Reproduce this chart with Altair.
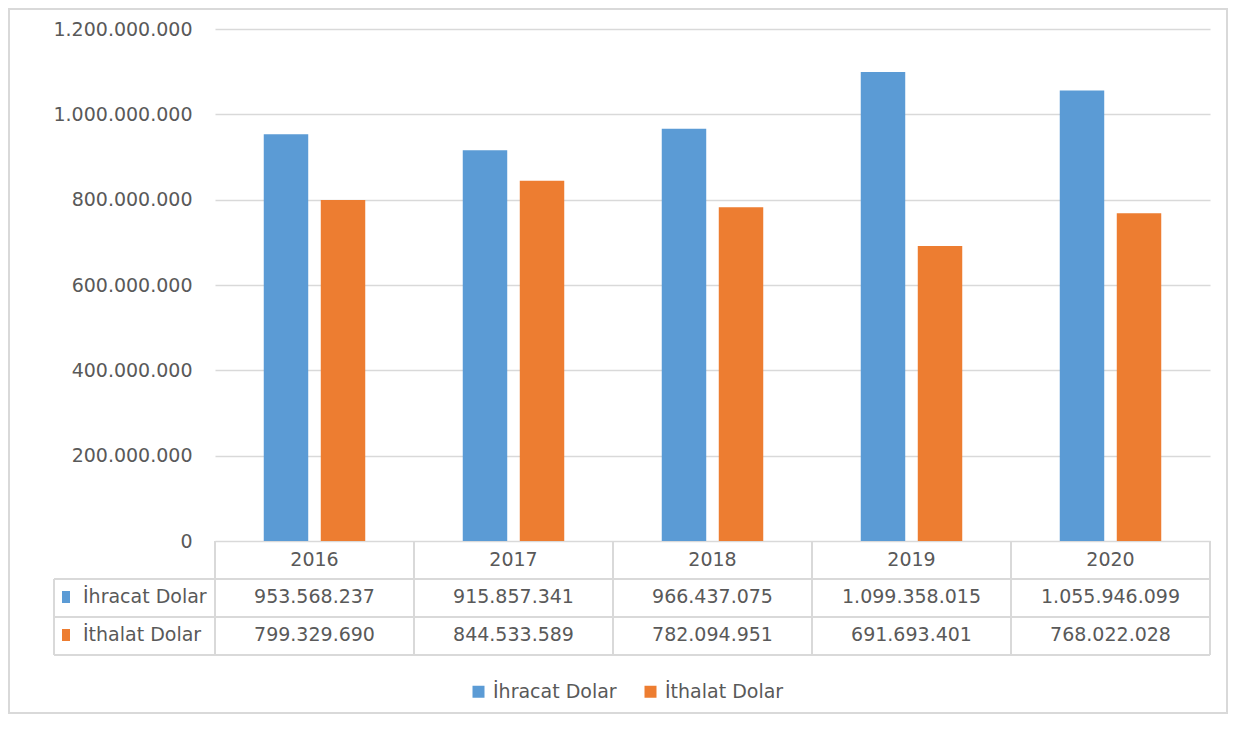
import altair as alt
import pandas as pd

years = ["2016", "2017", "2018", "2019", "2020"]
series_names = ["İhracat Dolar", "İthalat Dolar"]
ihracat = [953568237, 915857341, 966437075, 1099358015, 1055946099]
ithalat = [799329690, 844533589, 782094951, 691693401, 768022028]
y_ticks = [0, 200000000, 400000000, 600000000, 800000000, 1000000000, 1200000000]
colors = ["#5B9BD5", "#ED7D31"]

rows = []
for i, yr in enumerate(years):
    rows.append({"year": yr, "series": series_names[0], "value": ihracat[i]})
    rows.append({"year": yr, "series": series_names[1], "value": ithalat[i]})
df = pd.DataFrame(rows)
years_df = pd.DataFrame({"year": years})
one_df = pd.DataFrame({"k": [0]})

FONT = "DejaVu Sans"
FS = 19
TXT = "#595959"
LINE = "#d9d9d9"
W, H = 995, 512

base = alt.Chart(df)

bars = base.mark_bar().encode(
    x=alt.X("year:N", sort=years, axis=None,
            scale=alt.Scale(paddingInner=0.49, paddingOuter=0.245)),
    xOffset=alt.XOffset("series:N", sort=series_names,
                        scale=alt.Scale(paddingInner=0.22, paddingOuter=0)),
    y=alt.Y("value:Q", scale=alt.Scale(domain=[0, 1200000000], nice=False),
            axis=alt.Axis(values=y_ticks, format=",d", title=None, domain=False, ticks=False,
                          labelFontSize=FS, labelFont=FONT, labelColor=TXT, labelPadding=23,
                          gridColor=LINE, gridWidth=1.5)),
    color=alt.Color("series:N", sort=series_names,
                    scale=alt.Scale(domain=series_names, range=colors),
                    legend=alt.Legend(orient="none", legendX=254, legendY=653, direction="horizontal",
                                      title=None, labelFontSize=FS, labelFont=FONT, labelColor=TXT,
                                      symbolType="square", symbolSize=144, symbolStrokeWidth=0,
                                      labelOffset=5, columnPadding=24)),
)

tx = alt.X("year:N", sort=years, axis=None, scale=alt.Scale(paddingInner=0, paddingOuter=0))

header = alt.Chart(years_df).mark_text(font=FONT, fontSize=FS, color=TXT, baseline="middle").encode(
    x=tx, y=alt.value(531), text="year:N")

row1 = base.transform_filter(alt.datum.series == series_names[0]).mark_text(
    font=FONT, fontSize=FS, color=TXT, baseline="middle").encode(
    x=tx, y=alt.value(568), text=alt.Text("value:Q", format=",d"))
row2 = base.transform_filter(alt.datum.series == series_names[1]).mark_text(
    font=FONT, fontSize=FS, color=TXT, baseline="middle").encode(
    x=tx, y=alt.value(606), text=alt.Text("value:Q", format=",d"))

vlines = alt.Chart(years_df).mark_rule(color=LINE, strokeWidth=2).encode(
    x=alt.X("year:N", sort=years, axis=None, bandPosition=0,
            scale=alt.Scale(paddingInner=0, paddingOuter=0)),
    y=alt.value(512), y2=alt.value(626))
one = alt.Chart(one_df)
vline_end = one.mark_rule(color=LINE, strokeWidth=2).encode(
    x=alt.value(W), y=alt.value(512), y2=alt.value(626))
vline_left = one.mark_rule(color=LINE, strokeWidth=2).encode(
    x=alt.value(-161), y=alt.value(550), y2=alt.value(626))
hl1 = one.mark_rule(color=LINE, strokeWidth=2).encode(
    x=alt.value(-161), x2=alt.value(W), y=alt.value(550))
hl2 = one.mark_rule(color=LINE, strokeWidth=2).encode(
    x=alt.value(-161), x2=alt.value(W), y=alt.value(588))
hl3 = one.mark_rule(color=LINE, strokeWidth=2).encode(
    x=alt.value(-161), x2=alt.value(W), y=alt.value(626))

sq1 = one.mark_rect(color=colors[0]).encode(
    x=alt.value(-153), x2=alt.value(-145), y=alt.value(562), y2=alt.value(574))
sq2 = one.mark_rect(color=colors[1]).encode(
    x=alt.value(-153), x2=alt.value(-145), y=alt.value(600), y2=alt.value(612))
lab1 = one.mark_text(font=FONT, fontSize=FS, color=TXT, align="left",
                     baseline="middle", text=series_names[0]).encode(
    x=alt.value(-132), y=alt.value(568))
lab2 = one.mark_text(font=FONT, fontSize=FS, color=TXT, align="left",
                     baseline="middle", text=series_names[1]).encode(
    x=alt.value(-132), y=alt.value(606))

border = one.mark_rect(fill=None, stroke=LINE, strokeWidth=2).encode(
    x=alt.value(-206), x2=alt.value(1012), y=alt.value(-20), y2=alt.value(684))

chart = alt.layer(
    border, bars, header, row1, row2, vlines, vline_end, vline_left, hl1, hl2, hl3,
    sq1, sq2, lab1, lab2
).resolve_scale(x="independent").properties(
    width=W, height=H,
    autosize=alt.AutoSizeParams(type="none"),
    padding={"left": 207, "top": 21, "right": 18, "bottom": 174},
).configure(
    locale={"number": {"decimal": ",", "thousands": ".", "grouping": [3], "currency": ["", ""]}}
).configure_view(stroke=None)

chart.save("out.html", embed_options={"renderer": "svg", "actions": False})
